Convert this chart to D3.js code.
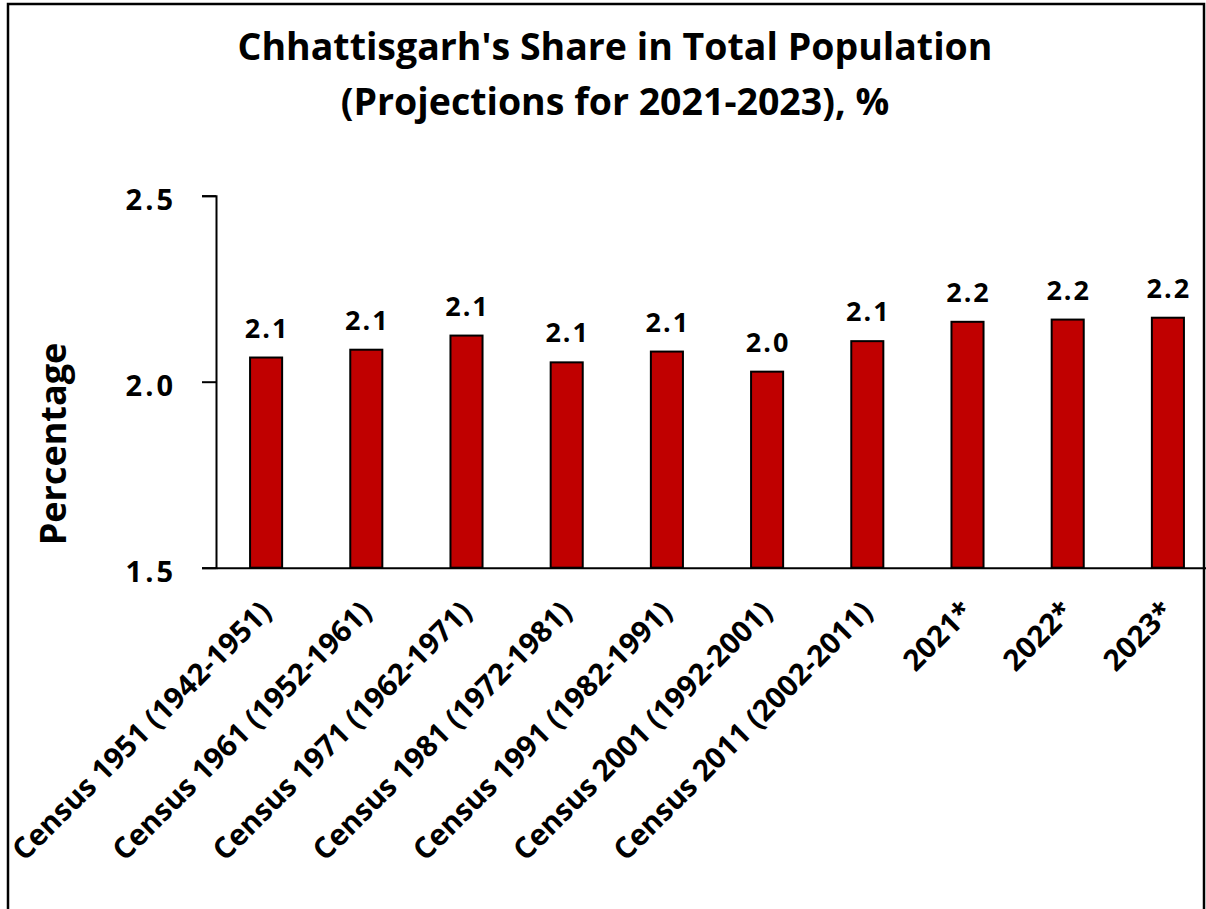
<!DOCTYPE html>
<html>
<head>
<meta charset="utf-8">
<script src="https://cdn.jsdelivr.net/npm/d3@7"></script>
<style>
  html, body { margin: 0; padding: 0; background: #fff; }
  svg { display: block; font-family: "Open Sans", sans-serif; font-weight: bold; }
</style>
</head>
<body>
<div id="chart"></div>
<script>
// data
const categories = [
  "Census 1951 (1942-1951)",
  "Census 1961 (1952-1961)",
  "Census 1971 (1962-1971)",
  "Census 1981 (1972-1981)",
  "Census 1991 (1982-1991)",
  "Census 2001 (1992-2001)",
  "Census 2011 (2002-2011)",
  "2021*",
  "2022*",
  "2023*"
];
const shares = [2.065, 2.086, 2.124, 2.052, 2.081, 2.027, 2.109, 2.161, 2.167, 2.172];
const yTicks = [1.5, 2.0, 2.5];
const titleLines = [
  "Chhattisgarh's Share in Total Population",
  "(Projections for 2021-2023), %"
];

const W = 1206, H = 909;
const plot = { left: 216, right: 1218, top: 195.7, bottom: 567.7 };

const svg = d3.select("#chart").append("svg")
  .attr("width", W)
  .attr("height", H);

// outer frame
svg.append("rect")
  .attr("x", 8).attr("y", 4)
  .attr("width", 1196).attr("height", 1000)
  .attr("fill", "none")
  .attr("stroke", "#000")
  .attr("stroke-width", 2.5);

// title
svg.append("g").selectAll("text")
  .data(titleLines)
  .join("text")
    .attr("x", 615)
    .attr("y", (d, i) => 60 + i * 55)
    .attr("text-anchor", "middle")
    .attr("font-size", 37.5)
    .text(d => d);

// scales
const x = d3.scaleBand()
  .domain(categories)
  .range([plot.left, plot.right])
  .paddingInner(0.68)
  .paddingOuter(0.34);

const y = d3.scaleLinear()
  .domain([1.5, 2.5])
  .range([plot.bottom, plot.top]);

// bars
svg.append("g").selectAll("rect")
  .data(shares)
  .join("rect")
    .attr("x", (d, i) => x(categories[i]))
    .attr("y", d => y(d))
    .attr("width", x.bandwidth())
    .attr("height", d => y(1.5) - y(d))
    .attr("fill", "#C00000")
    .attr("stroke", "#000")
    .attr("stroke-width", 2);

// value labels
svg.append("g").selectAll("text")
  .data(shares)
  .join("text")
    .attr("x", (d, i) => x(categories[i]) + x.bandwidth() / 2 + 1)
    .attr("y", d => y(d) - 20)
    .attr("text-anchor", "middle")
    .attr("font-size", 27)
    .attr("letter-spacing", 2)
    .text(d => d3.format(".1f")(d));

// y axis
const yAxis = svg.append("g")
  .attr("transform", `translate(${plot.left},0)`)
  .call(d3.axisLeft(y).tickValues(yTicks).tickFormat(d3.format(".1f"))
    .tickSize(14).tickPadding(26));
yAxis.select(".domain").attr("stroke-width", 2);
yAxis.selectAll(".tick line").attr("stroke-width", 2);
yAxis.selectAll(".tick text")
  .attr("font-size", 29)
  .attr("font-family", "Open Sans, sans-serif")
  .attr("font-weight", "bold")
  .attr("letter-spacing", 3)
  .attr("fill", "#000")
  .attr("dy", "0.46em");

// x axis (baseline only, labels drawn rotated)
const xAxis = svg.append("g")
  .attr("transform", `translate(0,${plot.bottom})`)
  .call(d3.axisBottom(x).tickSize(0).tickSizeOuter(0).tickFormat(""));
xAxis.select(".domain").attr("stroke-width", 2);

svg.append("g").selectAll("text")
  .data(categories)
  .join("text")
    .attr("text-anchor", "end")
    .attr("font-size", 29.5)
    .attr("transform", d => `translate(${x(d) + x.bandwidth() / 2 + 7},${plot.bottom + 46}) rotate(-45)`)
    .text(d => d);

// y axis title
svg.append("text")
  .attr("transform", "translate(66,444) rotate(-90)")
  .attr("text-anchor", "middle")
  .attr("font-size", 36)
  .text("Percentage");
</script>
</body>
</html>
